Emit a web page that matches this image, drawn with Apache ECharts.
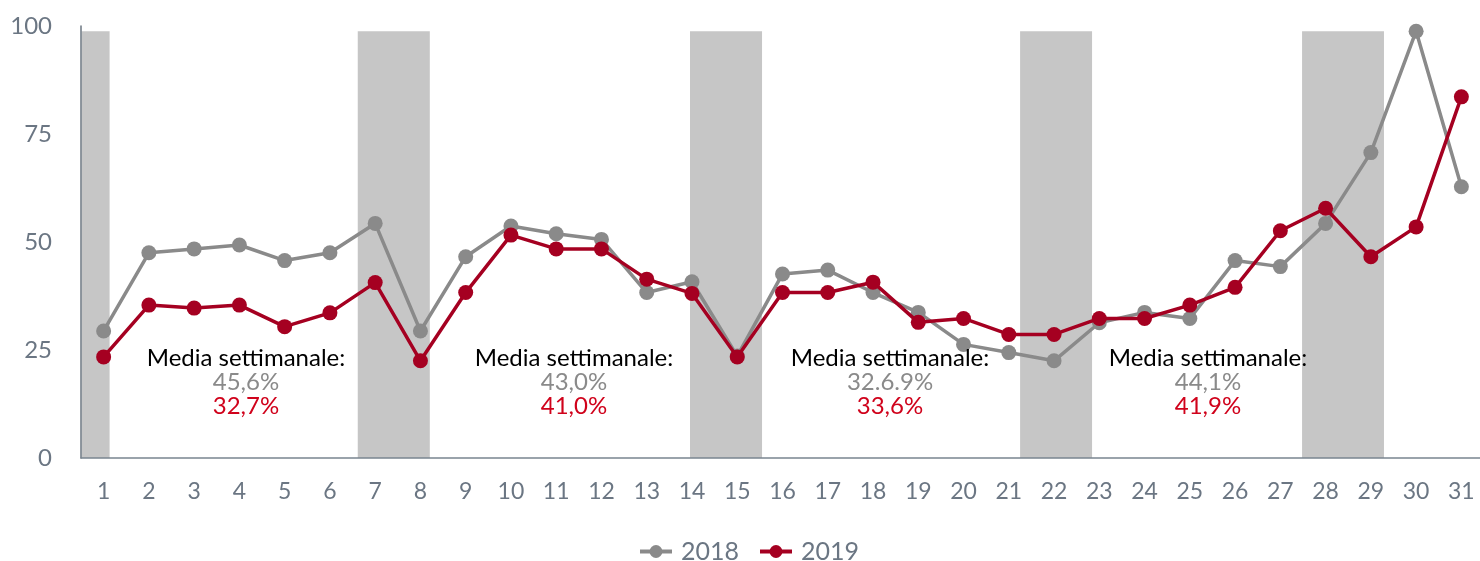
<!DOCTYPE html>
<html>
<head>
<meta charset="utf-8">
<script src="https://cdn.jsdelivr.net/npm/echarts@6/dist/echarts.min.js"></script>
<style>
  html, body { margin: 0; padding: 0; background: #fff; }
  #chart { width: 1480px; height: 561px; }
</style>
</head>
<body>
<div id="chart"></div>
<script>
// giorni del mese
const days = ['1', '2', '3', '4', '5', '6', '7', '8', '9', '10', '11', '12', '13', '14', '15', '16',
  '17', '18', '19', '20', '21', '22', '23', '24', '25', '26', '27', '28', '29', '30', '31']

const values2018 = [29.4, 47.5, 48.4, 49.3, 45.7, 47.5, 54.3, 29.4, 46.6, 53.7, 51.9, 50.6, 38.3, 40.8, 23.6, 42.6,
  43.5, 38.3, 33.7, 26.3, 24.4, 22.5, 31.3, 33.7, 32.3, 45.7, 44.3, 54.3, 70.7, 98.8, 62.8]
const values2019 = [23.4, 35.4, 34.7, 35.4, 30.4, 33.6, 40.6, 22.5, 38.3, 51.6, 48.4, 48.4, 41.4, 38.1, 23.4, 38.3,
  38.3, 40.7, 31.4, 32.3, 28.6, 28.6, 32.3, 32.3, 35.4, 39.5, 52.6, 57.8, 46.6, 53.5, 83.6]

// fasce weekend (in unita' giorno, asse nascosto)
const weekendBands = [[0.513, 1.132], [6.615, 8.207], [13.956, 15.548], [21.25, 22.84], [27.48, 29.29]]
const bandTop = 98.8

const yTicks = [0, 25, 50, 75, 100]

const avgLabel = 'Media settimanale:'
const weeklyAvg2018 = ['45,6%', '43,0%', '32.6.9%', '44,1%']
const weeklyAvg2019 = ['32,7%', '41,0%', '33,6%', '41,9%']

const GRAY = '#8a8a8a'
const RED = '#a50021'
const AXIS_TEXT = '#6b7683'
const FONT = 'Lato, "Noto Sans", sans-serif'

const chart = echarts.init(document.getElementById('chart'))

const annoX = [246, 574, 890, 1208]
const graphics = []
annoX.forEach((x, i) => {
  graphics.push({
    type: 'text', x: x, y: 358, z: 100, silent: true,
    style: { text: avgLabel, fill: '#000', font: '24px ' + FONT, align: 'center', verticalAlign: 'middle' }
  })
  graphics.push({
    type: 'text', x: x, y: 382, z: 100, silent: true,
    style: { text: weeklyAvg2018[i], fill: GRAY, font: '24px ' + FONT, align: 'center', verticalAlign: 'middle' }
  })
  graphics.push({
    type: 'text', x: x, y: 406, z: 100, silent: true,
    style: { text: weeklyAvg2019[i], fill: '#d0021b', font: '24px ' + FONT, align: 'center', verticalAlign: 'middle' }
  })
})

chart.setOption({
  animation: false,
  textStyle: { fontFamily: FONT },
  grid: {
    left: 81,
    right: -4,
    top: 26,
    bottom: 103,
    containLabel: false,
    outerBoundsMode: 'none'
  },
  legend: {
    left: 633,
    top: 534,
    itemWidth: 32,
    itemHeight: 16,
    itemGap: 19,
    data: ['2018', '2019'],
    lineStyle: { width: 4 },
    textStyle: { fontSize: 25, color: AXIS_TEXT, fontFamily: FONT, padding: [0, 0, 0, 4] }
  },
  xAxis: [{
    type: 'category',
    data: days,
    boundaryGap: true,
    axisTick: { show: false },
    axisLine: { show: true, lineStyle: { color: '#7a8590', width: 1.5 } },
    axisLabel: { color: AXIS_TEXT, fontSize: 23, margin: 22, fontFamily: FONT, interval: 0 }
  }, {
    type: 'value',
    min: 0.5,
    max: 31.5,
    show: false
  }],
  yAxis: {
    type: 'value',
    min: yTicks[0],
    max: yTicks[yTicks.length - 1],
    interval: 25,
    splitLine: { show: false },
    axisTick: { show: false },
    axisLine: { show: true, lineStyle: { color: '#6b7680', width: 1.5 } },
    axisLabel: { color: AXIS_TEXT, fontSize: 24, margin: 29, fontFamily: FONT }
  },
  graphic: graphics,
  series: [{
    name: 'weekend',
    type: 'custom',
    xAxisIndex: 1,
    yAxisIndex: 0,
    silent: true,
    z: 0,
    data: weekendBands.map(b => [b[0], b[1], bandTop]),
    encode: { x: [0, 1], y: 2 },
    renderItem(params, api) {
      const p0 = api.coord([api.value(0), api.value(2)])
      const p1 = api.coord([api.value(1), 0])
      return {
        type: 'rect',
        shape: { x: p0[0], y: p0[1], width: p1[0] - p0[0], height: p1[1] - p0[1] },
        style: { fill: '#c6c6c6' }
      }
    }
  }, {
    name: '2018',
    type: 'line',
    data: values2018,
    symbol: 'circle',
    symbolSize: 15,
    z: 3,
    itemStyle: { color: GRAY },
    lineStyle: { color: GRAY, width: 3.5 }
  }, {
    name: '2019',
    type: 'line',
    data: values2019,
    symbol: 'circle',
    symbolSize: 15,
    z: 4,
    itemStyle: { color: RED },
    lineStyle: { color: RED, width: 3.5 }
  }]
})
</script>
</body>
</html>
